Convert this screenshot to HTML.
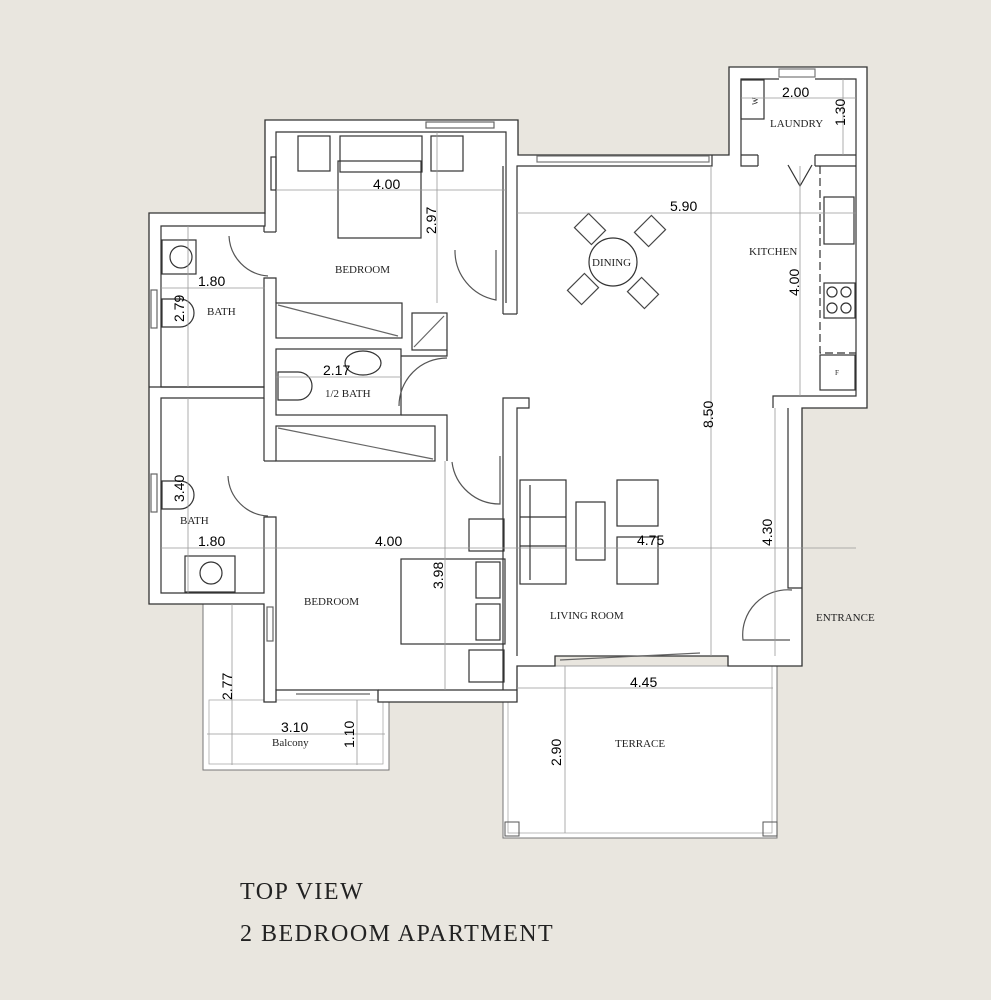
<!DOCTYPE html>
<html><head><style>html,body{margin:0;padding:0;background:#e9e6df;}svg{display:block}</style></head><body>
<svg width="991" height="1000" viewBox="0 0 991 1000" xmlns="http://www.w3.org/2000/svg">
<rect width="991" height="1000" fill="#e9e6df"/>
<rect x="203" y="604" width="186" height="166" fill="#fff" stroke="#777" stroke-width="1"/>
<rect x="209" y="700" width="174" height="64" fill="none" stroke="#aaa" stroke-width="0.8"/>
<rect x="503" y="666" width="274" height="172" fill="#fff" stroke="#777" stroke-width="1"/>
<rect x="508" y="666" width="264" height="167" fill="none" stroke="#aaa" stroke-width="0.8"/>
<rect x="505" y="822" width="14" height="14" fill="none" stroke="#555"/>
<rect x="763" y="822" width="14" height="14" fill="none" stroke="#555"/>
<polygon points="265,120 518,120 518,155 729,155 729,67 867,67 867,408 802,408 802,666 728,666 728,656 555,656 555,666 517,666 517,702 378,702 378,690 276,690 276,702 264,702 264,604 149,604 149,213 265,213" fill="#fff" stroke="#333" stroke-width="1.3"/>
<g fill="none" stroke="#333" stroke-width="1.2">
<polyline points="276,232 276,132 506,132 506,303"/>
<rect x="271" y="157" width="5" height="33"/>
<rect x="426" y="122" width="68" height="6" stroke="#666"/>
<polyline points="517,314 517,166 712,166 712,155"/>
<polyline points="503,314 503,166"/>
<line x1="503" y1="314" x2="517" y2="314"/>
<rect x="537" y="156" width="172" height="6" stroke="#777"/>
<polyline points="517,656 517,408 529,408 529,398 503,398 503,690"/>
<polyline points="758,166 741,166 741,79 779,79"/>
<polyline points="815,79 856,79 856,396 773,396 773,408"/>
<polyline points="815,166 856,166"/>
<line x1="815" y1="155" x2="815" y2="166"/>
<line x1="758" y1="155" x2="758" y2="166"/>
<line x1="741" y1="155" x2="758" y2="155"/>
<line x1="815" y1="155" x2="856" y2="155"/>
<rect x="779" y="69" width="36" height="8" stroke="#777"/>
<polyline points="788,408 788,588 802,588"/>
<path d="M792,590 A45,45 0 0 0 743,640 L790,640" stroke="#555"/>
<polyline points="265,213 265,226 161,226 161,387 264,387 264,278 276,278 276,303"/>
<polyline points="149,387 264,387 264,398 161,398 161,593 264,593 264,517 276,517 276,690"/>
<line x1="264" y1="226" x2="264" y2="232"/>
<line x1="264" y1="232" x2="276" y2="232"/>
<line x1="264" y1="461" x2="276" y2="461"/>
<line x1="264" y1="461" x2="264" y2="398"/>
<rect x="151" y="290" width="6" height="38" stroke="#666"/>
<rect x="151" y="474" width="6" height="38" stroke="#666"/>
<path d="M229,236 A42,42 0 0 0 268,276" stroke="#555"/>
<path d="M228,476 A42,42 0 0 0 268,516" stroke="#555"/>
<rect x="276" y="303" width="126" height="35"/>
<line x1="278" y1="305" x2="398" y2="336" stroke="#666"/>
<rect x="276" y="349" width="125" height="66"/>
<rect x="412" y="313" width="35" height="37"/>
<line x1="414" y1="347" x2="444" y2="316" stroke="#666"/>
<polyline points="401,356 447,356 447,350"/>
<path d="M447,358 A48,48 0 0 0 399,406" stroke="#555"/>
<polyline points="401,415 447,415 447,461"/>
<rect x="276" y="426" width="159" height="35"/>
<line x1="278" y1="428" x2="433" y2="459" stroke="#666"/>
<path d="M455,250 A50,50 0 0 0 496,300 L496,250" stroke="#555"/>
<path d="M452,462 A48,48 0 0 0 500,504 L500,456" stroke="#555"/>
<rect x="267" y="607" width="6" height="34" stroke="#666"/>
<polyline points="378,690 517,690"/>
<line x1="296" y1="694" x2="370" y2="694" stroke="#666"/>
<line x1="560" y1="660" x2="700" y2="653" stroke="#666"/>
<rect x="298" y="136" width="32" height="35"/><rect x="431" y="136" width="32" height="35"/>
<rect x="340" y="136" width="82" height="36"/>
<rect x="338" y="161" width="83" height="77"/>
<rect x="469" y="519" width="35" height="32"/><rect x="469" y="650" width="35" height="32"/>
<rect x="401" y="559" width="104" height="85"/>
<rect x="476" y="562" width="24" height="36"/><rect x="476" y="604" width="24" height="36"/>
<rect x="162" y="240" width="34" height="34"/><circle cx="181" cy="257" r="11"/>
<rect x="185" y="556" width="50" height="36"/><circle cx="211" cy="573" r="11"/>
<path d="M162,299 h18 a14,14 0 0 1 0,28 h-18 z"/>
<path d="M162,481 h18 a14,14 0 0 1 0,28 h-18 z"/>
<path d="M278,372 h20 a14,14 0 0 1 0,28 h-20 z"/>
<ellipse cx="363" cy="363" rx="18" ry="12"/>
<circle cx="613" cy="262" r="24"/>
<g stroke="#444"><rect x="-12" y="-10" width="24" height="20" transform="translate(590,229) rotate(45)"/><rect x="-12" y="-10" width="24" height="20" transform="translate(650,231) rotate(-45)"/><rect x="-12" y="-10" width="24" height="20" transform="translate(583,289) rotate(-45)"/><rect x="-12" y="-10" width="24" height="20" transform="translate(643,293) rotate(45)"/></g>
<path d="M820,166 V353 H856" stroke-dasharray="8,4"/>
<rect x="824" y="197" width="30" height="47"/>
<rect x="824" y="283" width="31" height="35"/>
<circle cx="832" cy="292" r="5"/><circle cx="846" cy="292" r="5"/><circle cx="832" cy="308" r="5"/><circle cx="846" cy="308" r="5"/>
<rect x="820" y="355" width="35" height="35"/>
<rect x="741" y="80" width="23" height="39"/>
<polyline points="788,165 800,186 812,165"/>
<rect x="520" y="480" width="46" height="104"/>
<line x1="530" y1="485" x2="530" y2="580"/><line x1="520" y1="517" x2="566" y2="517"/><line x1="520" y1="546" x2="566" y2="546"/>
<rect x="576" y="502" width="29" height="58"/>
<rect x="617" y="480" width="41" height="46"/><rect x="617" y="537" width="41" height="47"/>
</g>
<g stroke="#999" stroke-width="0.8" fill="none">
<line x1="276" y1="190" x2="506" y2="190"/><line x1="437" y1="132" x2="437" y2="303"/>
<line x1="517" y1="213" x2="856" y2="213"/><line x1="711" y1="166" x2="711" y2="656"/>
<line x1="741" y1="98" x2="856" y2="98"/><line x1="843" y1="79" x2="843" y2="155"/>
<line x1="800" y1="166" x2="800" y2="396"/>
<line x1="161" y1="288" x2="265" y2="288"/><line x1="188" y1="226" x2="188" y2="387"/>
<line x1="276" y1="377" x2="401" y2="377"/>
<line x1="188" y1="398" x2="188" y2="593"/><line x1="161" y1="548" x2="856" y2="548"/>
<line x1="445" y1="461" x2="445" y2="690"/>
<line x1="775" y1="408" x2="775" y2="656"/>
<line x1="517" y1="688" x2="773" y2="688"/><line x1="565" y1="666" x2="565" y2="833"/>
<line x1="232" y1="604" x2="232" y2="765"/><line x1="207" y1="734" x2="385" y2="734"/><line x1="357" y1="700" x2="357" y2="765"/>
</g>
<g fill="#000" font-family="Liberation Sans, sans-serif" font-size="14">
<text x="373" y="189">4.00</text>
<text x="436" y="234" transform="rotate(-90 436 234)">2.97</text>
<text x="670" y="211">5.90</text>
<text x="782" y="97">2.00</text>
<text x="845" y="126" transform="rotate(-90 845 126)">1.30</text>
<text x="799" y="296" transform="rotate(-90 799 296)">4.00</text>
<text x="198" y="286">1.80</text>
<text x="184" y="322" transform="rotate(-90 184 322)">2.79</text>
<text x="323" y="375">2.17</text>
<text x="713" y="428" transform="rotate(-90 713 428)">8.50</text>
<text x="184" y="502" transform="rotate(-90 184 502)">3.40</text>
<text x="198" y="546">1.80</text>
<text x="375" y="546">4.00</text>
<text x="443" y="589" transform="rotate(-90 443 589)">3.98</text>
<text x="637" y="545">4.75</text>
<text x="772" y="546" transform="rotate(-90 772 546)">4.30</text>
<text x="630" y="687">4.45</text>
<text x="561" y="766" transform="rotate(-90 561 766)">2.90</text>
<text x="232" y="700" transform="rotate(-90 232 700)">2.77</text>
<text x="281" y="732">3.10</text>
<text x="354" y="748" transform="rotate(-90 354 748)">1.10</text>
</g>
<g fill="#222" font-family="Liberation Serif, serif" font-size="11">
<text x="335" y="273">BEDROOM</text>
<text x="207" y="315">BATH</text>
<text x="325" y="397">1/2 BATH</text>
<text x="180" y="524">BATH</text>
<text x="304" y="605">BEDROOM</text>
<text x="592" y="266">DINING</text>
<text x="749" y="255">KITCHEN</text>
<text x="770" y="127">LAUNDRY</text>
<text x="550" y="619">LIVING ROOM</text>
<text x="816" y="621">ENTRANCE</text>
<text x="615" y="747">TERRACE</text>
<text x="272" y="746">Balcony</text>
<text x="750" y="103" font-size="8" transform="rotate(-90 755 100)">W</text>
<text x="835" y="375" font-size="7">F</text>
</g>
<g fill="#222" font-family="Liberation Serif, serif" font-size="24" letter-spacing="1.5">
<text x="240" y="899">TOP VIEW</text>
<text x="240" y="941">2 BEDROOM APARTMENT</text>
</g>
</svg>
</body></html>
